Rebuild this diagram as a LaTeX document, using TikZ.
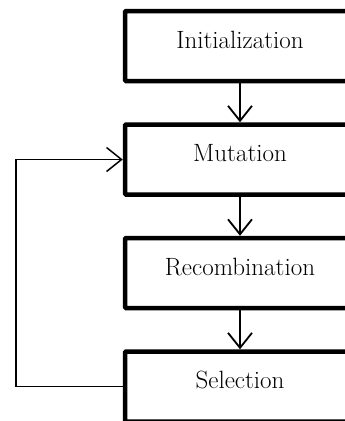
\documentclass[tikz,border=0pt]{standalone}
\usepackage{tikz}
\usetikzlibrary{positioning,arrows.meta}

\begin{document}
\begin{tikzpicture}[
  x=1pt, y=1pt,
  font=\fontsize{25}{30}\selectfont, node distance=39pt,
  box/.style={draw, line width=4.5pt, rounded corners=1pt, minimum width=230pt, minimum height=70pt, text depth=13pt, inner sep=0pt},
  arr/.style={-{Straight Barb[length=15pt, width=24pt]}, line width=1.8pt}
]
\clip (0,0) rectangle (345,-421);
\node[box] (init) at (240,-46) {Initialization};
\node[box, below=of init] (mut) {Mutation};
\node[box, below=of mut] (rec) {Recombination};
\node[box, below=of rec] (sel) {Selection};
\coordinate (back) at (16,0);
\draw[arr] (init) -- (mut);
\draw[arr] (mut) -- (rec);
\draw[arr] (rec) -- (sel);
\draw[arr, line width=1.5pt, rounded corners=0pt] (sel.west) -| (back |- mut.west) -- (mut.west);
\end{tikzpicture}
\end{document}
